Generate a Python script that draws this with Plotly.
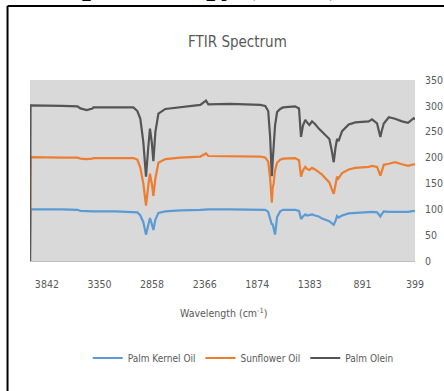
import plotly.graph_objects as go

# Wavenumber grid (cm^-1), high to low
wavenumber = [4000, 3995, 3700, 3556, 3528, 3470, 3416, 3407, 3200, 3033,
              2996, 2968, 2940, 2915, 2894, 2878, 2861, 2846, 2827, 2799,
              2734, 2594, 2407, 2354, 2332, 2127, 1847, 1800, 1772, 1754,
              1738, 1731, 1721, 1708, 1689, 1660, 1633, 1521, 1484, 1465,
              1447, 1425, 1409, 1387, 1362, 1334, 1299, 1268, 1237, 1200,
              1179, 1159, 1142, 1128, 1114, 1081, 1019, 957, 894, 832,
              801, 754, 735, 723, 712, 691, 644, 586, 520, 464,
              411, 399]

palm_kernel_oil = [0, 100, 100, 99, 97, 96, 96, 96, 96, 95,
                   94, 88, 75, 51, 72, 83, 72, 60, 80, 93,
                   96, 98, 99, 100, 100, 100, 100, 99, 95, 80,
                   70, 72, 62, 51, 85, 96, 99, 99, 97, 81,
                   86, 90, 88, 89, 90, 88, 86, 82, 80, 77,
                   73, 70, 78, 87, 84, 88, 92, 93, 94, 95,
                   95, 94, 89, 86, 90, 96, 95, 95, 94, 95,
                   97, 96]

sunflower_oil = [0, 201, 200, 200, 198, 197, 198, 199, 199, 199,
                 196, 180, 150, 107, 145, 169, 150, 126, 160, 190,
                 197, 200, 202, 208, 203, 203, 202, 200, 192, 160,
                 113, 140, 150, 175, 190, 196, 198, 199, 195, 163,
                 175, 182, 178, 176, 180, 177, 172, 167, 160, 152,
                 140, 130, 148, 163, 160, 170, 177, 180, 181, 182,
                 184, 182, 172, 165, 172, 186, 188, 191, 187, 184,
                 187, 186]

palm_olein = [0, 301, 300, 299, 295, 292, 295, 297, 297, 297,
              290, 275, 230, 163, 220, 256, 230, 193, 250, 285,
              294, 298, 302, 310, 303, 304, 302, 300, 290, 240,
              164, 190, 220, 262, 288, 294, 297, 299, 295, 240,
              262, 273, 268, 263, 270, 265, 256, 250, 243, 236,
              215, 191, 220, 236, 232, 251, 264, 268, 269, 270,
              274, 266, 250, 240, 250, 266, 278, 275, 270, 267,
              276, 274]

tick_values = [3842, 3350, 2858, 2366, 1874, 1383, 891, 399]
y_ticks = [0, 50, 100, 150, 200, 250, 300, 350]

series = [
    ("Palm Kernel Oil", palm_kernel_oil, "#5b9bd5"),
    ("Sunflower Oil", sunflower_oil, "#ed7d31"),
    ("Palm Olein", palm_olein, "#555555"),
]

font_family = "DejaVu Sans Condensed, Liberation Sans Narrow, Roboto Condensed, Roboto, sans-serif"
text_gray = "#595959"

fig = go.Figure()
for name, values, color in series:
    fig.add_trace(go.Scatter(
        x=wavenumber, y=values, name=name, mode="lines",
        line=dict(color=color, width=2.2),
    ))

# pixel-to-paper helpers for the fixed 444x391 canvas
L, R, T, B = 29.5, 415.0, 80.0, 261.0
def px(x):
    return (x - L) / (R - L)
def py(y):
    return (B - y) / (B - T)

fig.update_layout(
    width=444, height=391,
    margin=dict(l=L, r=444 - R, t=T, b=391 - B, autoexpand=False),
    paper_bgcolor="white",
    plot_bgcolor="#d9d9d9",
    showlegend=True,
    legend=dict(
        orientation="h", x=px(243), y=py(358), xanchor="center", yanchor="middle",
        font=dict(family=font_family, size=10, color=text_gray),
        itemwidth=30, tracegroupgap=0, bgcolor="rgba(0,0,0,0)",
    ),
    xaxis=dict(
        range=[4000, 399], tickmode="array", tickvals=tick_values,
        ticktext=[str(v) for v in tick_values],
        showgrid=False, zeroline=False, automargin=False,
        showline=True, linecolor="#bfbfbf", linewidth=1,
        ticks="outside", ticklen=13, tickcolor="rgba(0,0,0,0)",
        tickfont=dict(family=font_family, size=10.5, color=text_gray),
    ),
    yaxis=dict(
        range=[0, 350], side="right", tickvals=y_ticks,
        showgrid=False, zeroline=False, showline=False, automargin=False,
        ticks="outside", ticklen=7, tickcolor="rgba(0,0,0,0)",
        tickfont=dict(family=font_family, size=10.5, color=text_gray),
    ),
    annotations=[
        dict(text="FTIR Spectrum", x=px(237), y=py(42), xref="paper", yref="paper",
             xanchor="center", yanchor="middle", showarrow=False,
             font=dict(family=font_family, size=15, color=text_gray)),
        dict(text="Wavelength (cm<sup>-1</sup>)", x=px(223), y=py(312),
             xref="paper", yref="paper", xanchor="center", yanchor="middle",
             showarrow=False,
             font=dict(family=font_family, size=10.5, color=text_gray)),
        dict(text="spectroscopy (FTIR)", x=px(207), y=py(3), xref="paper", yref="paper",
             xanchor="center", yanchor="bottom", showarrow=False,
             font=dict(family="Liberation Serif", size=32, color="black",
                       weight="bold", style="italic")),
    ],
    shapes=[
        dict(type="line", xref="paper", yref="paper",
             x0=px(7), x1=px(446), y0=py(6), y1=py(6),
             line=dict(color="black", width=2)),
        dict(type="line", xref="paper", yref="paper",
             x0=px(7), x1=px(7), y0=py(6), y1=py(393),
             line=dict(color="black", width=2)),
    ],
)

fig.write_html("out.html")
